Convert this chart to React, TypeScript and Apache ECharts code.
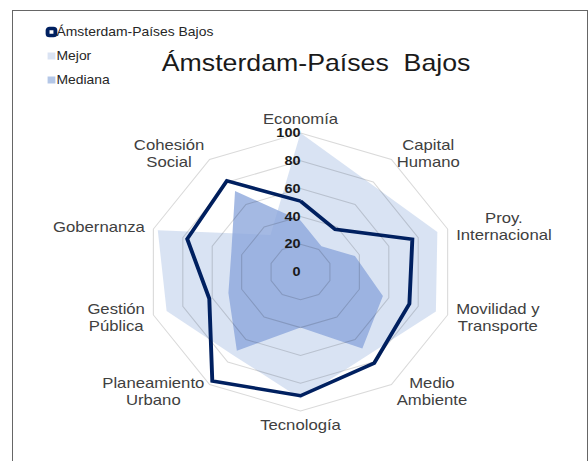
import React, { useEffect, useRef } from "react";
import * as echarts from "echarts";

// Clockwise from the top, as in the reference
const categories = [
  "Economía",
  "Capital\nHumano",
  "Proy.\nInternacional",
  "Movilidad y\nTransporte",
  "Medio\nAmbiente",
  "Tecnología",
  "Planeamiento\nUrbano",
  "Gestión\nPública",
  "Gobernanza",
  "Cohesión\nSocial",
];
const amsterdam = [51, 38, 76, 74, 81, 89, 97, 62, 77, 81];
const mejor = [100, 78, 93, 92, 74, 91, 74, 91, 97, 33];
const mediana = [37, 23, 37, 56, 68, 40, 70, 49, 47, 72];
const seriesNames = ["Ámsterdam-Países Bajos", "Mejor", "Mediana"];
const chartTitle = "Ámsterdam-Países  Bajos";
const axisMin = 0;
const axisMax = 100;
const axisSplits = 5;

const FONT = "'Liberation Sans', Arial, sans-serif";
const SX = 1.113; // horizontal stretch of the reference picture
const W = 588 / SX;
const H = 461;

// ECharts lays radar indicators out counter-clockwise: reverse all but the first
const ccw = <T,>(arr: T[]): T[] => [arr[0], ...arr.slice(1).reverse()];

export default function App() {
  const ref = useRef<HTMLDivElement>(null);
  useEffect(() => {
    if (!ref.current) return;
    const chart = echarts.init(ref.current, undefined, { renderer: "svg" });
    const indicator = ccw(categories).map((name, i) => {
      const ind: any = { name, min: axisMin, max: axisMax };
      if (i === 0) {
        ind.nameGap = 6;
        ind.axisLabel = {
          show: true,
          fontWeight: "bold",
          fontSize: 13,
          margin: 0,
          color: "#1a1a1a",
          fontFamily: FONT,
        };
      }
      if (name === "Tecnología") ind.nameGap = 5;
      return ind;
    });
    chart.setOption({
      animation: false,
      backgroundColor: "#ffffff",
      title: {
        text: chartTitle,
        left: 279,
        top: 45,
        textAlign: "center",
        textStyle: {
          fontSize: 24,
          fontWeight: "normal",
          color: "#1a1a1a",
          fontFamily: FONT,
        },
      },
      legend: {
        orient: "vertical",
        left: 36,
        top: 20,
        itemWidth: 7,
        itemHeight: 7,
        itemGap: 10,
        selectedMode: false,
        textStyle: {
          fontSize: 12.5,
          lineHeight: 14,
          color: "#262626",
          fontFamily: FONT,
          padding: [0, 0, 0, -4],
        },
        data: [
          {
            name: seriesNames[0],
            icon: "roundRect",
            itemStyle: { color: "#ffffff", borderColor: "#002060", borderWidth: 3.5 },
          },
          { name: seriesNames[1], icon: "rect", itemStyle: { color: "#dae3f3", borderWidth: 0 } },
          { name: seriesNames[2], icon: "rect", itemStyle: { color: "#b4c7e7", borderWidth: 0 } },
        ],
      },
      radar: {
        z: 3,
        center: [270, 272],
        radius: 139,
        startAngle: 90,
        splitNumber: axisSplits,
        shape: "polygon",
        nameGap: 8,
        axisName: {
          color: "#404040",
          fontSize: 15,
          fontFamily: FONT,
          formatter: (name: string) =>
            name
              .split("\n")
              .map((l) => `{c|${l}}`)
              .join("\n"),
          rich: {
            c: { align: "center", fontSize: 15, lineHeight: 17, color: "#404040", fontFamily: FONT },
          },
        },
        axisLine: { show: false },
        axisTick: { show: false },
        axisLabel: { show: false },
        splitLine: { lineStyle: { color: "rgba(0,0,0,0.15)", width: 1 } },
        splitArea: { show: false },
        indicator,
      },
      series: [
        {
          type: "radar",
          z: 2,
          symbol: "none",
          silent: true,
          data: [
            {
              name: seriesNames[1],
              value: ccw(mejor),
              lineStyle: { width: 0, opacity: 0 },
              areaStyle: { color: "rgba(180,199,231,0.5)", opacity: 1 },
            },
            {
              name: seriesNames[2],
              value: ccw(mediana),
              lineStyle: { width: 0, opacity: 0 },
              areaStyle: { color: "rgba(138,165,219,0.78)", opacity: 1 },
            },
            {
              name: seriesNames[0],
              value: ccw(amsterdam),
              lineStyle: { width: 3.5, color: "#002060", join: "miter" },
              itemStyle: { color: "#002060" },
            },
          ],
        },
      ],
    });
    return () => chart.dispose();
  }, []);
  return (
    <>
      <div
        ref={ref}
        style={{
          position: "absolute",
          left: 0,
          top: 0,
          width: W,
          height: H,
          transform: `scaleX(${SX})`,
          transformOrigin: "0 0",
        }}
      />
      <div
        style={{
          position: "absolute",
          left: 12,
          top: 10,
          width: 574,
          height: 470,
          border: "1.5px solid #666666",
          pointerEvents: "none",
        }}
      />
    </>
  );
}
